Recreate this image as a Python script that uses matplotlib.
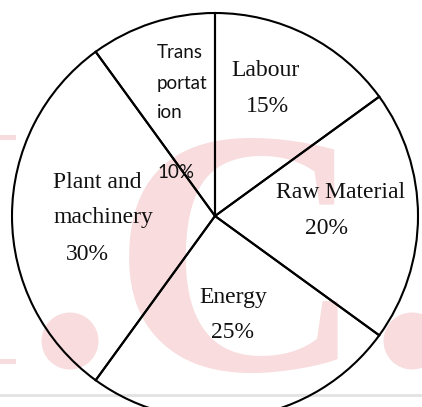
import matplotlib
matplotlib.use("Agg")
import matplotlib.pyplot as plt
from matplotlib.patches import Circle, Rectangle

# ---- data ----
categories = ["Labour", "Raw Material", "Energy", "Plant and machinery", "Transportation"]
values = [15, 20, 25, 30, 10]
# how each category name is broken into lines on the chart
label_lines = [["Labour"], ["Raw Material"], ["Energy"], ["Plant and", "machinery"],
               ["Trans", "portat", "ion"]]

# ---- layout (pixel coordinates, y measured from top) ----
W, H = 422, 407
cx, cy, R = 215, 216, 203
# (x, y of each name line, pct x, pct y, alignment, font)
label_layout = [
    (265, [70], 267, 106, "center", "serif"),
    (341, [192], 326, 228, "center", "serif"),
    (233, [298], 233, 333, "center", "serif"),
    (53, [182, 218], 66, 255, "left", "serif"),
    (157, [53, 83, 113], 157, 172, "left", "sans"),
]
pink = "#f8dcde"

fig = plt.figure(figsize=(W / 100, H / 100), dpi=100)
ax = fig.add_axes([0, 0, 1, 1])
ax.set_xlim(0, W)
ax.set_ylim(0, H)
ax.axis("off")

def py(y):
    return H - y

# watermark
ax.text(238, py(370), "C", family="Liberation Serif", fontweight="bold", fontsize=252,
        color=pink, ha="center", va="baseline", zorder=0, clip_on=True)
for dx in (70, 412):
    ax.add_patch(Circle((dx, py(341)), 28.5, color=pink, zorder=0, lw=0))
for yy in (137, 361):
    ax.add_patch(Rectangle((0, py(yy) - 2.5), 16, 5, color=pink, zorder=0, lw=0))
# bottom grey band
ax.add_patch(Rectangle((0, py(396.5)), W, 2.5, color="#e4e4e4", zorder=0, lw=0))

# pie
ax.pie(values, startangle=90, counterclock=False, center=(cx, py(cy)), radius=R,
       wedgeprops=dict(facecolor="none", edgecolor="black", linewidth=1.5),
       frame=False)
ax.set_xlim(0, W)
ax.set_ylim(0, H)
ax.set_aspect("auto")
ax.axis("off")

serif = dict(family="Liberation Serif", fontsize=17, color="#111111")
sans = dict(family="Lato", fontsize=13.5, color="#111111")
for lines, v, (x, ys, px_, py_, ha, fnt) in zip(label_lines, values, label_layout):
    st = serif if fnt == "serif" else sans
    for line, y in zip(lines, ys):
        ax.text(x, py(y), line, ha=ha, va="center", **st)
    ax.text(px_, py(py_), f"{v}%", ha=ha, va="center", **st)

fig.savefig("out.png", dpi=100, facecolor="white")
